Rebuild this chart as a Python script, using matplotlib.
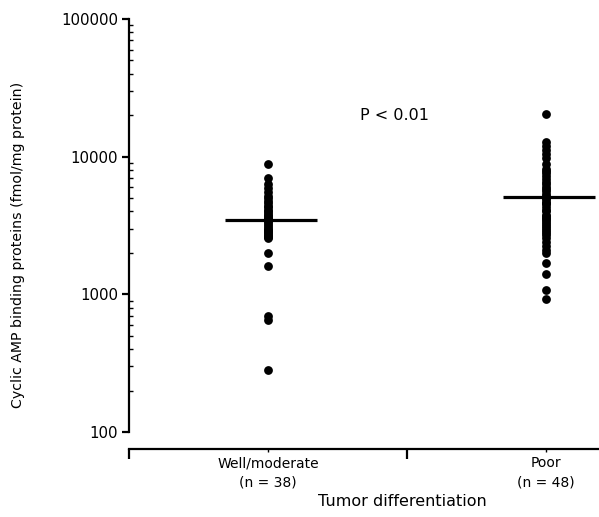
import numpy as np
import matplotlib
matplotlib.use('Agg')
import matplotlib.pyplot as plt
from matplotlib.ticker import LogLocator, NullFormatter, FixedLocator

# Values (fmol/mg protein)
groups = ['Well/moderate\n(n = 38)', 'Poor\n(n = 48)']
well_moderate = [8900, 7000, 6300, 5900, 5500, 5200, 5000, 4800, 4600, 4400,
                 4300, 4100, 4000, 3900, 3800, 3700, 3600, 3550, 3500, 3450,
                 3400, 3300, 3200, 3100, 3000, 2950, 2900, 2850, 2800, 2700,
                 2650, 2600, 2550, 2000, 1600, 700, 650, 280]
poor = [20500, 12800, 12000, 11200, 10500, 9700, 8900, 8200, 7900, 7600,
        7200, 6900, 6600, 6300, 6000, 5800, 5600, 5400, 5200, 5000,
        4900, 4700, 4600, 4500, 4300, 4100, 4000, 3800, 3700, 3600,
        3500, 3400, 3300, 3200, 3100, 3000, 2900, 2800, 2700, 2550,
        2400, 2250, 2100, 2000, 1700, 1400, 1070, 920]
medians = [3480, 5100]
p_text = 'P < 0.01'

W, H = 599, 517
fig = plt.figure(figsize=(W / 100, H / 100), dpi=100)
ax = fig.add_axes([129 / W, 1 - 432 / H, (W - 129) / W, (432 - 19) / H])

for i, vals in enumerate([well_moderate, poor]):
    ax.scatter(np.full(len(vals), i), vals, s=40, color='black', zorder=3, linewidths=0)
    ax.hlines(medians[i], i - 0.155, i + 0.176, color='black', lw=2.3, zorder=4)

ax.set_yscale('log')
ax.set_ylim(100, 100000)
ax.set_xlim(-0.5, 1.19)

ax.spines['top'].set_visible(False)
ax.spines['right'].set_visible(False)
ax.spines['left'].set_linewidth(1.6)
ax.spines['bottom'].set_linewidth(1.6)
ax.spines['bottom'].set_position(('outward', 12.5))

ax.yaxis.set_major_locator(FixedLocator([100, 1000, 10000, 100000]))
ax.yaxis.set_minor_locator(LogLocator(base=10, subs=np.arange(2, 10)))
ax.yaxis.set_minor_formatter(NullFormatter())
ax.set_yticklabels(['100', '1000', '10000', '100000'])
ax.tick_params(axis='y', which='major', direction='out', length=5, width=1.6, labelsize=10.8, pad=3)
ax.tick_params(axis='y', which='minor', direction='in', length=3, width=1)

ax.set_xticks([-0.5, 0.5])
ax.set_xticklabels([])
ax.set_xticks([0, 1], minor=True)
ax.set_xticklabels(groups, minor=True, linespacing=1.45)
ax.tick_params(axis='x', which='major', direction='out', length=7, width=1.6)
ax.tick_params(axis='x', which='minor', direction='out', length=2, width=1, labelsize=10, pad=3)

ax.set_ylabel('Cyclic AMP binding proteins (fmol/mg protein)', fontsize=10.2)
ax.yaxis.set_label_coords((18 - 129) / 470, (432 - 245) / 413)
ax.yaxis.label.set_va('center')
ax.set_xlabel('Tumor differentiation', fontsize=11.5)
ax.xaxis.set_label_coords((402 - 129) / 470, (432 - 502) / 413)
ax.xaxis.label.set_va('center')

ax.text(0.33, 20000, p_text, fontsize=11.5, va='center', ha='left')

fig.savefig('out.png', dpi=100)
